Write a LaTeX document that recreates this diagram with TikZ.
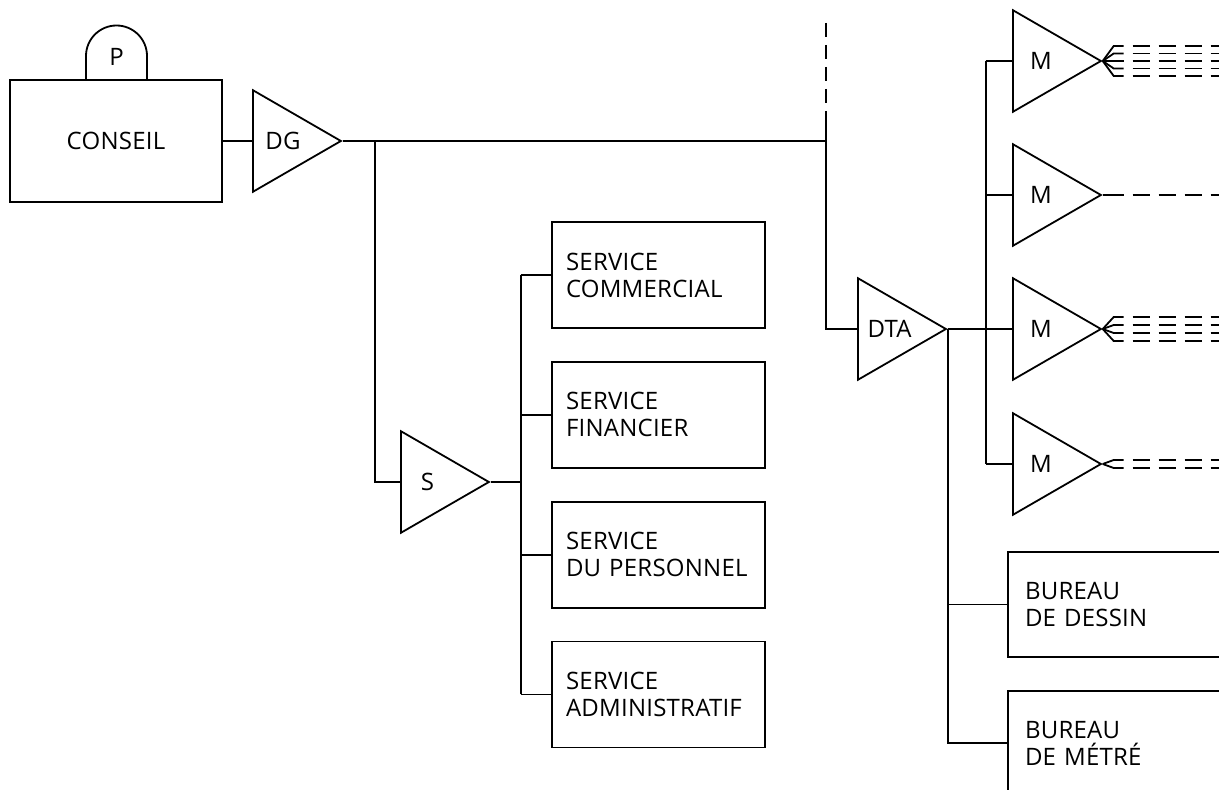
\documentclass[tikz,border=0pt]{standalone}
\usepackage{fontspec}
\setmainfont{Open Sans}[LetterSpace=1]
\usetikzlibrary{shapes.geometric, positioning}

\begin{document}
\begin{tikzpicture}[
    x=0.5pt, y=0.5pt,
    line width=0.9pt,
    font=\fontsize{12pt}{13.5pt}\selectfont,
    amp/.style = {
        isosceles triangle,
        isosceles triangle apex angle=60,
        draw,
        minimum height=44pt,
        inner sep=0pt,
        anchor=lower side
    },
    svc box/.style = {
        rectangle, draw,
        minimum height=53pt,
        text width=92.5pt, inner xsep=7pt,
        align=left
    },
    bur box/.style = {
        rectangle, draw,
        minimum height=52.5pt,
        text width=109pt, inner xsep=8.5pt,
        align=left
    },
    out line/.style = {dash pattern=on 8.75pt off 4.25pt}
]
\useasboundingbox (0,0) rectangle (1219,789);
\clip (0,0) rectangle (1219,789);

% conseil and president
\node[draw, minimum width=106pt, minimum height=61pt] (conseil) at (116,648) {CONSEIL};
\node (pres) at (116.5,732) {P};
\draw (86,0 |- conseil.north) -- (86,733) arc[start angle=180, end angle=0, radius=15.25pt] -- (147,733) -- (147,0 |- conseil.north);

% direction generale
\node[amp] (dg) at (252,648) {DG};
\draw (conseil.east) -- (dg.west);
\coordinate (jtop) at (826,676);
\coordinate (jtip) at (826,766);
\draw (dg.apex) -| (jtop);
\draw[dash pattern=on 7pt off 4pt] (jtip) -- (jtop);

% secretariat et services
\node[amp] (sec) at (400,307) {S};
\draw ([xshift=16pt]dg.apex) |- (sec.west);

\node[svc box] (scom) at (658.5,514) {SERVICE\\COMMERCIAL};
\node[svc box, below=16pt of scom] (sfin) {SERVICE\\FINANCIER};
\node[svc box, below=16pt of sfin] (sper) {SERVICE\\DU PERSONNEL};
\node[svc box, below=16pt of sper] (sadm) {SERVICE\\ADMINISTRATIF};

\draw (sec.apex) -- ++(15pt,0) coordinate (sbus);
\draw (sbus |- scom.west) -- (sbus |- sadm.west);
\foreach \b in {scom, sfin, sper, sadm}
    \draw (sbus |- \b.west) -- (\b.west);

% direction technique
\node[amp] (dta) at (857,460) {DTA};
\draw (dg.apex -| jtop) |- (dta.west);

\node[amp] (m1) at (1012,728) {M};
\node[amp] (m2) at (1012,594) {M};
\node[amp] (m3) at (1012,460) {M};
\node[amp] (m4) at (1012,325) {M};

\draw (dta.apex) -- ++(19pt,0) coordinate (mbus);
\draw (mbus |- m1.west) -- (mbus |- m4.west);
\foreach \m in {m1, m2, m3, m4}
    \draw (mbus |- \m.west) -- (\m.west);

% lignes vers les chantiers
\foreach \m/\offs in {m1/{-15,-7.5,0,7.5,15}, m2/{0}, m3/{-12,-4,4,12}, m4/{-4,4}}
    \foreach \d in \offs {
        \draw (\m.apex) -- ([xshift=5.5pt, yshift=\d*0.5pt]\m.apex) -- ++(5pt,0) coordinate (o);
        \draw[out line] ([xshift=4.5pt]o) -- ++(70pt,0);
    }

% bureaux
\node[bur box] (bdes) at (1134,184.5) {BUREAU\\DE DESSIN};
\node[bur box, below=16pt of bdes] (bmet) {BUREAU\\DE MÉTRÉ};
\draw (dta.apex) |- (bdes.west);
\draw (dta.apex) |- (bmet.west);

\end{tikzpicture}
\end{document}
